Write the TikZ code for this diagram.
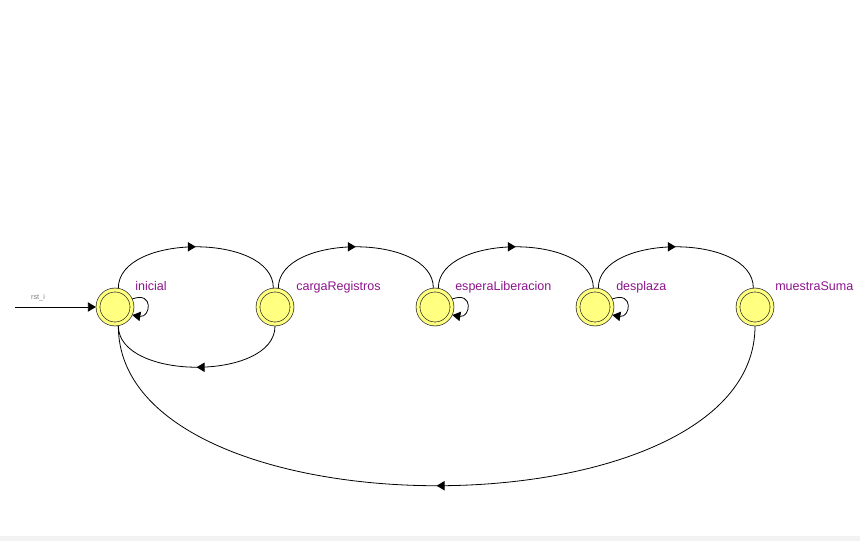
\documentclass[tikz,border=0pt]{standalone}
\usepackage{fontspec}
\setmainfont{Liberation Sans}
\usetikzlibrary{arrows.meta,decorations.markings,positioning}

\definecolor{stateyellow}{RGB}{255,255,128}
\definecolor{statelabel}{RGB}{140,20,140}

\tikzset{
  state/.style={circle, draw=black!85, line width=0.5pt, fill=stateyellow,
    double=stateyellow, double distance=2.4pt, minimum size=25.5pt, inner sep=0pt, outer sep=1.6pt},
  lbl/.style={text=statelabel, font=\fontsize{9.4}{11}\selectfont, inner sep=0pt, anchor=base west},
  trans/.style={line width=0.6pt, postaction={decorate}, decoration={markings,
    mark=at position 0.5 with {\arrow{Triangle[length=6pt,width=7pt]}}}},
  loopy/.style={line width=0.6pt, -{Triangle[length=6pt,width=7pt]}},
}

\begin{document}
\begin{tikzpicture}[x=0.75pt,y=0.75pt,yscale=-1,xscale=1]
\useasboundingbox (0,0) rectangle (860,541);
\fill[gray!10] (0,536) rectangle (860,541);

% States
\node[state] (ini) at (115,307) {};
\node[state] (car) at (275,307) {};
\node[state] (esp) at (435,307) {};
\node[state] (des) at (595,307) {};
\node[state] (mue) at (755,307) {};

% State names
\node[lbl] (iniL) at ([shift={(20,-16.5)}]ini.center) {inicial};
\node[lbl] (carL) at ([shift={(21,-16.5)}]car.center) {cargaRegistros};
\node[lbl] (espL) at ([shift={(20,-16.5)}]esp.center) {esperaLiberacion};
\node[lbl] (desL) at ([shift={(21,-16.5)}]des.center) {desplaza};
\node[lbl] (mueL) at ([shift={(20,-16.5)}]mue.center) {muestraSuma};

% Reset
\coordinate (rst) at (15,307);
\draw[loopy] (rst) -- (ini.west);
\node[text=gray, font=\fontsize{5.5}{6}\selectfont, inner sep=0pt] (rstL) at (38,298) {rst\_i};

% Forward transitions
\draw[trans] (ini.80) .. controls +(0,-55) and +(0,-55) .. (car.95);
\draw[trans] (car.80) .. controls +(0,-55) and +(0,-55) .. (esp.95);
\draw[trans] (esp.80) .. controls +(0,-55) and +(0,-55) .. (des.95);
\draw[trans] (des.80) .. controls +(0,-55) and +(0,-55) .. (mue.95);

% Back transitions
\draw[trans] (car.-90) .. controls +(0,55) and +(0,55) .. (ini.-80);
\draw[trans] (mue.-90) .. controls +(0,213) and +(0,213) .. (ini.-80);

% Self loops
\draw[loopy] (ini.25) .. controls +(22,-8) and +(18,3) .. (ini.-25);
\draw[loopy] (esp.25) .. controls +(22,-8) and +(18,3) .. (esp.-25);
\draw[loopy] (des.25) .. controls +(22,-8) and +(18,3) .. (des.-25);

\end{tikzpicture}
\end{document}
